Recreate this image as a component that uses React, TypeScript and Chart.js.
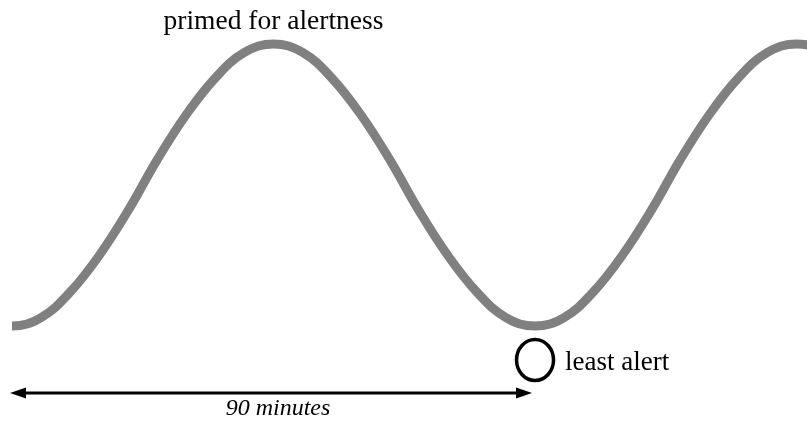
import React, { useEffect, useRef } from "react";
import { Chart, registerables } from "chart.js";

Chart.register(...registerables);

// time in minutes, alertness normalised 0 (least) .. 1 (most)
const minutes = [-10, -5, 0, 5, 10, 15, 20, 25, 30, 35, 40, 45, 50, 55, 60, 65, 70, 75, 80, 85, 90, 95, 100, 105, 110, 115, 120, 125, 130, 135, 140, 145];
const alertness = [0.12, 0.03, 0, 0.03, 0.12, 0.25, 0.41, 0.59, 0.75, 0.88, 0.97, 1, 0.97, 0.88, 0.75, 0.59, 0.41, 0.25, 0.12, 0.03, 0, 0.03, 0.12, 0.25, 0.41, 0.59, 0.75, 0.88, 0.97, 1, 0.97, 0.88];

const peakLabel = "primed for alertness";
const troughLabel = "least alert";
const cycleLabel = "90 minutes";
const peakMinute = 45;
const troughMinute = 90;
const cycleStart = 0;
const cycleEnd = 90;

const SERIF = '"Liberation Serif", "DejaVu Serif", serif';

const annotations = {
  id: "annotations",
  afterDraw(chart: any) {
    const { ctx, scales } = chart;
    const xs = scales.x;
    const ys = scales.y;
    ctx.save();
    ctx.fillStyle = "#000";
    ctx.strokeStyle = "#000";
    // peak label
    ctx.font = `27.5px ${SERIF}`;
    ctx.textAlign = "center";
    ctx.textBaseline = "alphabetic";
    ctx.fillText(peakLabel, xs.getPixelForValue(peakMinute), ys.getPixelForValue(1) - 15);

    // trough marker
    const tx = xs.getPixelForValue(troughMinute);
    const ty = ys.getPixelForValue(0) + 34;
    ctx.lineWidth = 3.5;
    ctx.beginPath();
    ctx.ellipse(tx, ty, 18.5, 20.5, 0, 0, Math.PI * 2);
    ctx.stroke();
    ctx.textAlign = "left";
    ctx.font = `27px ${SERIF}`;
    ctx.fillText(troughLabel, tx + 30, ty + 10);

    // 90-minute arrow
    const ax0 = xs.getPixelForValue(cycleStart) - 2;
    const ax1 = xs.getPixelForValue(cycleEnd) - 3;
    const ay = ys.getPixelForValue(0) + 67;
    const head = 16;
    const hw = 5.5;
    ctx.lineWidth = 3;
    ctx.beginPath();
    ctx.moveTo(ax0 + head - 2, ay);
    ctx.lineTo(ax1 - head + 2, ay);
    ctx.stroke();
    ctx.beginPath();
    ctx.moveTo(ax0, ay);
    ctx.lineTo(ax0 + head, ay - hw);
    ctx.lineTo(ax0 + head, ay + hw);
    ctx.closePath();
    ctx.fill();
    ctx.beginPath();
    ctx.moveTo(ax1, ay);
    ctx.lineTo(ax1 - head, ay - hw);
    ctx.lineTo(ax1 - head, ay + hw);
    ctx.closePath();
    ctx.fill();

    ctx.font = `italic 24px ${SERIF}`;
    ctx.textAlign = "center";
    ctx.fillText(cycleLabel, (ax0 + ax1) / 2 + 7, ay + 22);
    ctx.restore();
  },
};

export default function App() {
  const ref = useRef<HTMLCanvasElement>(null);
  useEffect(() => {
    document.body.style.margin = "0";
    const chart = new Chart(ref.current!, {
      type: "line",
      data: {
        datasets: [
          {
            data: minutes.map((m, i) => ({ x: m, y: alertness[i] })),
            borderColor: "#808080",
            borderWidth: 9,
            pointRadius: 0,
            tension: 0.4,
            fill: false,
            clip: { left: 0, right: 0, top: false, bottom: false } as any,
            borderCapStyle: "butt",
          },
        ],
      },
      options: {
        animation: false,
        responsive: false,
        layout: { padding: { left: 12, right: 0, top: 44, bottom: 97 } },
        plugins: { legend: { display: false }, tooltip: { enabled: false } },
        scales: {
          x: { type: "linear", min: 0, max: 136.8, display: false },
          y: { min: 0, max: 1, display: false },
        },
      },
      plugins: [annotations],
    });
    return () => chart.destroy();
  }, []);
  return (
    <div style={{ position: "absolute", left: 0, top: 0, width: 807, height: 423, background: "#fff" }}>
      <canvas ref={ref} width={807} height={423} />
    </div>
  );
}
